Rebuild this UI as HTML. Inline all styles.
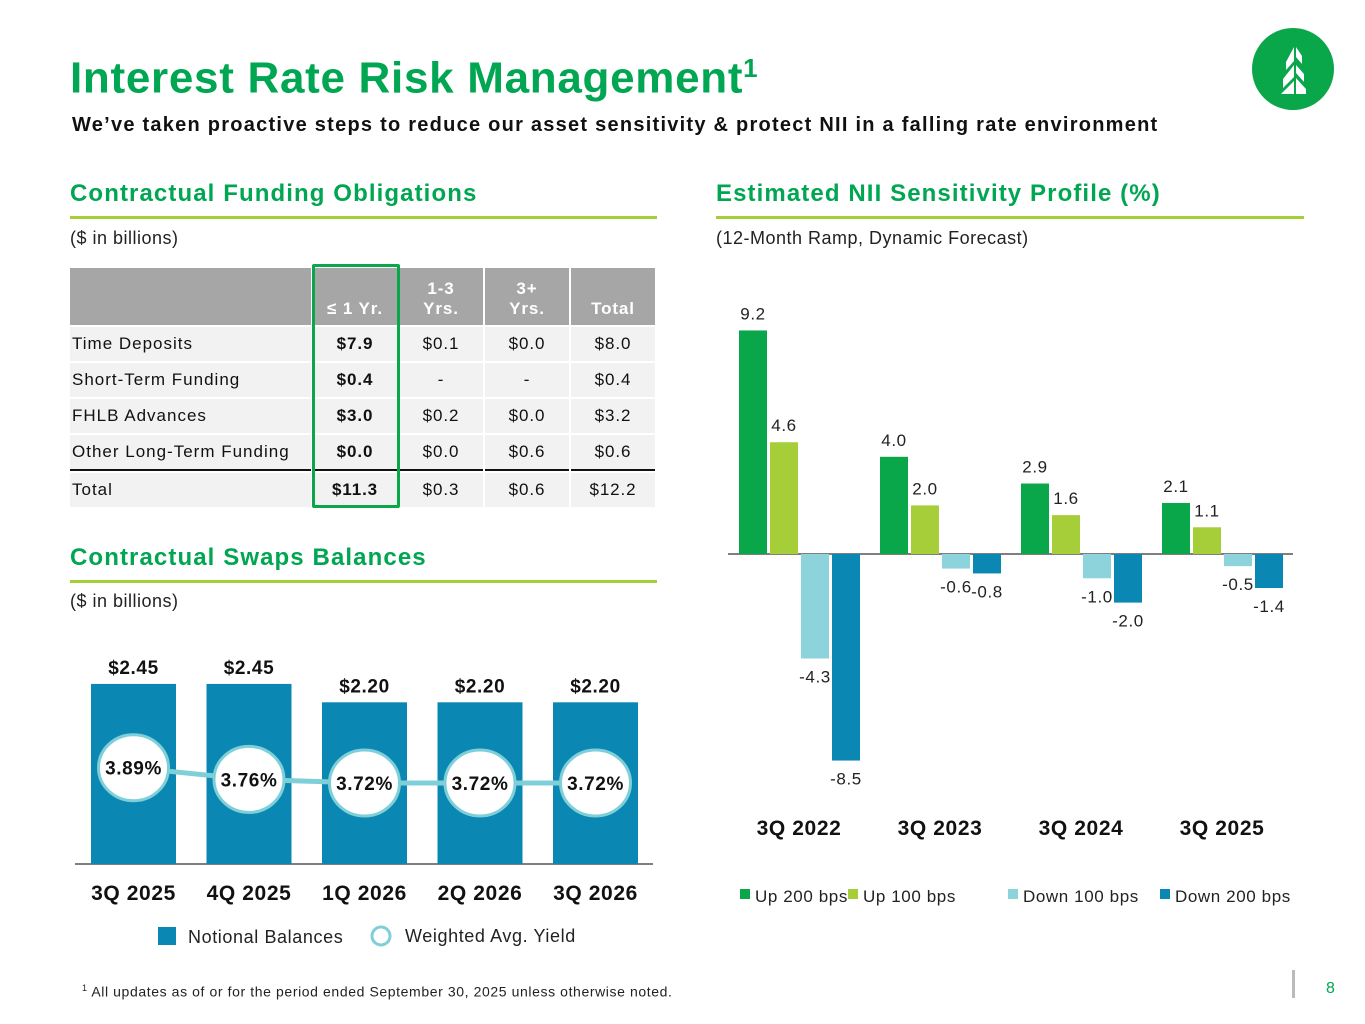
<!DOCTYPE html>
<html><head><meta charset="utf-8"><style>
body{margin:0;width:1365px;height:1024px;background:#fff;font-family:"Liberation Sans",Arial,sans-serif;position:relative;overflow:hidden}
.abs{position:absolute}
h1{position:absolute;left:70px;top:40px;margin:0;font-size:44px;letter-spacing:0.7px;color:#00a651;font-weight:bold;line-height:56px}
.sec{position:absolute;font-size:24px;letter-spacing:1.1px;font-weight:bold;color:#00a651}
.rule{position:absolute;height:3px;background:#a6ce39}
.note{position:absolute;font-size:18px;letter-spacing:0.5px;color:#222}
table{border-collapse:separate;border-spacing:2px;position:absolute;left:68px;top:266px;font-size:17px;letter-spacing:0.9px;color:#111}
td,th{background:#f2f2f2;text-align:center;padding:0}
th{background:#a6a6a6;color:#fff;font-weight:bold;height:51px;vertical-align:bottom;padding-bottom:6px;font-size:17px;line-height:20px}
td{height:34px}
td.l{text-align:left;padding-left:2px;width:239px;letter-spacing:1.0px}
td.b{font-weight:bold}
svg text{letter-spacing:0.6px}
</style></head><body>
<h1>Interest Rate Risk Management<sup style="font-size:26px">1</sup></h1>
<div class="abs" style="left:72px;top:114px;font-size:20px;letter-spacing:1.25px;font-weight:bold;color:#111">We’ve taken proactive steps to reduce our asset sensitivity &amp; protect NII in a falling rate environment</div>
<svg class="abs" style="left:1252px;top:28px" width="82" height="82"><circle cx="41" cy="41" r="41" fill="#0aa64a"/>
<path d="M42 19 L42 33 L34 42 L34 34 Z M44 19 L50 28 L50 36 L44 29 Z M42 37 L42 49 L31 60 L31 51 Z M44 37 L52 46 L52 54 L44 45 Z M42 53 L42 66 L29 66 L29 66 Z M44 50 L54 61 L54 66 L44 66 Z" fill="#fff"/></svg>

<div class="sec" style="left:70px;top:180px">Contractual Funding Obligations</div>
<div class="rule" style="left:70px;top:216px;width:587px"></div>
<div class="note" style="left:70px;top:228px">($ in billions)</div>
<table>
<tr><th style="width:241px"></th><th style="width:84px">≤ 1 Yr.</th><th style="width:84px">1-3<br>Yrs.</th><th style="width:84px">3+<br>Yrs.</th><th style="width:84px">Total</th></tr>
<tr><td class="l">Time Deposits</td><td class="b">$7.9</td><td>$0.1</td><td>$0.0</td><td>$8.0</td></tr>
<tr><td class="l">Short-Term Funding</td><td class="b">$0.4</td><td>-</td><td>-</td><td>$0.4</td></tr>
<tr><td class="l">FHLB Advances</td><td class="b">$3.0</td><td>$0.2</td><td>$0.0</td><td>$3.2</td></tr>
<tr><td class="l" style="border-bottom:2px solid #111">Other Long-Term Funding</td><td class="b" style="border-bottom:2px solid #111">$0.0</td><td style="border-bottom:2px solid #111">$0.0</td><td style="border-bottom:2px solid #111">$0.6</td><td style="border-bottom:2px solid #111">$0.6</td></tr>
<tr><td class="l">Total</td><td class="b">$11.3</td><td>$0.3</td><td>$0.6</td><td>$12.2</td></tr>
</table>
<div class="abs" style="left:312px;top:264px;width:82px;height:238px;border:3px solid #0aa64a;border-radius:2px"></div>

<div class="sec" style="left:70px;top:544px">Contractual Swaps Balances</div>
<div class="rule" style="left:70px;top:580px;width:587px"></div>
<div class="note" style="left:70px;top:591px">($ in billions)</div>
<svg id="swaps" class="abs" style="left:0;top:640px" width="680" height="320"></svg>

<div class="sec" style="left:716px;top:180px">Estimated NII Sensitivity Profile (%)</div>
<div class="rule" style="left:716px;top:216px;width:588px"></div>
<div class="note" style="left:716px;top:228px">(12-Month Ramp, Dynamic Forecast)</div>
<svg id="nii" class="abs" style="left:700px;top:290px" width="620" height="630"></svg>

<div class="abs" style="left:82px;top:983px;font-size:14px;letter-spacing:0.6px;color:#222"><sup style="font-size:9px">1</sup> All updates as of or for the period ended September 30, 2025 unless otherwise noted.</div>
<div class="abs" style="left:1292px;top:970px;width:3px;height:28px;background:#bbb"></div>
<div class="abs" style="left:1326px;top:980px;font-size:16px;color:#00a651">8</div>

<script>
const NS="http://www.w3.org/2000/svg";
function mk(p,t,a,txt){const e=document.createElementNS(NS,t);for(const k in a)e.setAttribute(k,a[k]);if(txt!==undefined)e.textContent=txt;p.appendChild(e);return e;}

// swaps data
const swapQuarters=["3Q 2025","4Q 2025","1Q 2026","2Q 2026","3Q 2026"];
const swapBalances=[2.45,2.45,2.20,2.20,2.20];
const swapYields=[3.89,3.76,3.72,3.72,3.72];
// nii data
const niiPeriods=["3Q 2022","3Q 2023","3Q 2024","3Q 2025"];
const niiSeries=["Up 200 bps","Up 100 bps","Down 100 bps","Down 200 bps"];
const up200=[9.2,4.0,2.9,2.1];
const up100=[4.6,2.0,1.6,1.1];
const down100=[-4.3,-0.6,-1.0,-0.5];
const down200=[-8.5,-0.8,-2.0,-1.4];

(function(){
 const s=document.getElementById('swaps');
 const base=224, sc=73.5;
 const xc=i=>133.5+i*115.5;
 const yB=v=>base-v*sc;
 const yY=v=>143-(v-3.72)*90;
 mk(s,'line',{x1:75,x2:653,y1:base,y2:base,stroke:'#555','stroke-width':1.5});
 swapBalances.forEach((v,i)=>{
  const r=mk(s,'rect',{x:xc(i)-42.5,y:yB(v),width:85,height:v*sc,fill:'#0b87b4'});
  
  
  mk(s,'text',{x:xc(i),y:yB(v)-10,'text-anchor':'middle','font-size':19,'font-weight':'bold',fill:'#111'},'$'+v.toFixed(2));
  mk(s,'text',{x:xc(i),y:260,'text-anchor':'middle','font-size':21,'font-weight':'bold',fill:'#111'},swapQuarters[i]);
 });
 let d='';swapYields.forEach((v,i)=>{d+=(i?'L':'M')+xc(i)+' '+yY(v);});
 mk(s,'path',{d:d,stroke:'#7fcfd8','stroke-width':5,fill:'none'});
 swapYields.forEach((v,i)=>{
  const c=mk(s,'ellipse',{cx:xc(i),cy:yY(v),rx:35,ry:33,fill:'#fff',stroke:'#7fcfd8','stroke-width':3});
  
  
  mk(s,'text',{x:xc(i),y:yY(v)+7,'text-anchor':'middle','font-size':19,'font-weight':'bold',fill:'#111'},v.toFixed(2)+'%');
 });
 const l1=mk(s,'rect',{x:158,y:287,width:18,height:18,fill:'#0b87b4'});
 
 
 mk(s,'text',{x:188,y:303,'font-size':18,fill:'#222'},'Notional Balances');
 const l2=mk(s,'circle',{cx:381,cy:296,r:9,fill:'#fff',stroke:'#7fcfd8','stroke-width':3});
 
 
 mk(s,'text',{x:405,y:302,'font-size':18,fill:'#222'},'Weighted Avg. Yield');
})();

(function(){
 const s=document.getElementById('nii');
 const base=264, sc=24.3;
 const colors=['#0aa64a','#a6ce39','#8dd3dc','#0b87b4'];
 const series=[up200,up100,down100,down200];
 const gx=i=>39+i*141;
 const y=v=>v>=0?base-v*sc:base;
 mk(s,'line',{x1:28,x2:593,y1:base,y2:base,stroke:'#555','stroke-width':1.5});
 niiPeriods.forEach((p,i)=>{
  series.forEach((arr,k)=>{
   const v=arr[i];const x=gx(i)+k*31;
   const r=mk(s,'rect',{x:x,y:y(v),width:28,height:Math.abs(v)*sc,fill:colors[k]});
   
   
   const ty=v>=0?base-v*sc-11:base-v*sc+24;
   mk(s,'text',{x:x+14,y:ty,'text-anchor':'middle','font-size':17,fill:'#222'},v.toFixed(1));
  });
  mk(s,'text',{x:gx(i)+60,y:545,'text-anchor':'middle','font-size':21,'font-weight':'bold',fill:'#111'},p);
 });
 const lx=[40,148,308,460];
 niiSeries.forEach((n,k)=>{
  const r=mk(s,'rect',{x:lx[k],y:599,width:10,height:10,fill:colors[k]});
  
  
  mk(s,'text',{x:lx[k]+15,y:612,'font-size':17,fill:'#222'},n);
 });
})();
</script>
</body></html>
